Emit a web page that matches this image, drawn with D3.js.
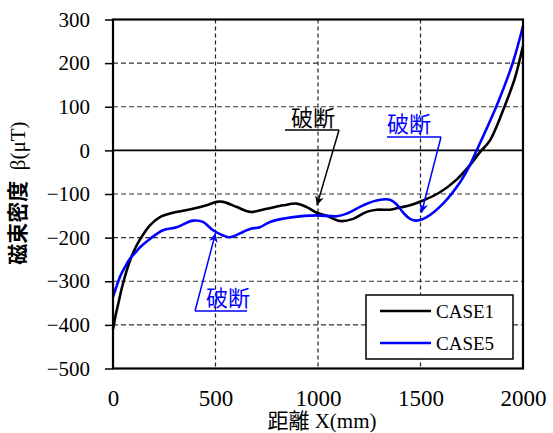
<!DOCTYPE html>
<html><head><meta charset="utf-8">
<script src="https://cdn.jsdelivr.net/npm/d3@7"></script>
<style>body{margin:0;background:#fff}</style>
</head><body>
<script>
const xTicks = [0, 500, 1000, 1500, 2000];
const yTicks = [300, 200, 100, 0, -100, -200, -300, -400, -500];
const seriesNames = ["CASE1", "CASE5"];
const case1X = [0, 12, 24, 45, 67, 90, 115, 140, 180, 229, 293, 390, 456, 505, 537, 605, 668, 750, 830, 896, 945, 994, 1042, 1107, 1171, 1237, 1286, 1351, 1400, 1449, 1512, 1595, 1676, 1741, 1790, 1839, 1912, 1960, 2000];
const case1Y = [-410, -380, -355, -312, -275, -244, -218, -198, -172, -153, -143, -134, -126, -118, -118, -130, -141, -134, -126, -122, -130, -143, -150, -162, -157, -141, -136, -136, -131, -126, -115, -96, -67, -34, -4, 23, 103, 165, 240];
const case5X = [0, 15, 34, 60, 83, 110, 132, 180, 244, 311, 390, 439, 488, 537, 571, 634, 668, 717, 766, 878, 994, 1091, 1140, 1220, 1286, 1351, 1384, 1420, 1449, 1481, 1530, 1610, 1693, 1741, 1774, 1872, 1951, 2000];
const case5Y = [-336, -315, -290, -266, -248, -234, -222, -203, -183, -176, -161, -164, -183, -195, -199, -187, -180, -176, -164, -153, -149, -151, -145, -126, -115, -113, -124, -145, -157, -161, -153, -122, -73, -34, 0, 103, 202, 285];
const annLabel = "破断";

const W = 553, H = 433;
const m = {left: 113, right: 523, top: 19.5, bottom: 368.5};
const svg = d3.select("body").append("svg").attr("width", W).attr("height", H);
const x = d3.scaleLinear().domain([0, 2000]).range([m.left, m.right]);
const y = d3.scaleLinear().domain([-500, 300]).range([m.bottom, m.top]);
const serif = "'Liberation Serif','Times New Roman',serif";
const cjk = "'Noto Sans CJK JP',sans-serif";

// grid
const g = svg.append("g");
g.selectAll("line.hg").data(yTicks.filter(d => d !== 0 && d !== 300 && d !== -500)).enter().append("line")
  .attr("x1", m.left).attr("x2", m.right).attr("y1", d => y(d)).attr("y2", d => y(d))
  .attr("stroke", "#333").attr("stroke-width", 1.2).attr("stroke-dasharray", "5,3");
g.selectAll("line.vg").data(xTicks.filter(d => d !== 0 && d !== 2000)).enter().append("line")
  .attr("x1", d => x(d)).attr("x2", d => x(d)).attr("y1", m.top).attr("y2", m.bottom)
  .attr("stroke", "#222").attr("stroke-width", 1.2).attr("stroke-dasharray", "4,3");
g.append("line").attr("x1", m.left).attr("x2", m.right).attr("y1", y(0)).attr("y2", y(0))
  .attr("stroke", "#000").attr("stroke-width", 1.6);

// y axis
const yAxis = d3.axisLeft(y).tickValues(yTicks).tickSize(8).tickPadding(15).tickFormat(d3.format("d"));
const ya = svg.append("g").attr("transform", `translate(${m.left},0)`).call(yAxis);
ya.select(".domain").remove();
ya.selectAll("line").attr("stroke", "#000").attr("stroke-width", 1.5);
ya.selectAll("text").attr("font-family", serif).attr("font-size", 21).attr("fill", "#000");

const xAxis = d3.axisBottom(x).tickValues(xTicks).tickSize(0).tickPadding(21).tickFormat(d3.format("d"));
const xa = svg.append("g").attr("transform", `translate(0,${m.bottom})`).call(xAxis);
xa.select(".domain").remove();
xa.selectAll("text").attr("font-family", serif).attr("font-size", 23).attr("fill", "#000");

// lines
const line = d3.line().x(d => x(d[0])).y(d => y(d[1])).curve(d3.curveCatmullRom.alpha(0.5));
const d1 = case1X.map((v, i) => [v, case1Y[i]]);
const d5 = case5X.map((v, i) => [v, case5Y[i]]);
svg.append("path").datum(d1).attr("d", line).attr("fill", "none").attr("stroke", "#000").attr("stroke-width", 2.6);
svg.append("path").datum(d5).attr("d", line).attr("fill", "none").attr("stroke", "#0000ff").attr("stroke-width", 2.6);

// frame
svg.append("rect").attr("x", m.left).attr("y", m.top).attr("width", m.right - m.left).attr("height", m.bottom - m.top)
  .attr("fill", "none").attr("stroke", "#000").attr("stroke-width", 2.2);

// annotations
const defs = svg.append("defs");
["#000", "#0000ff"].forEach((c, i) => {
  defs.append("marker").attr("id", "ar" + i).attr("viewBox", "0 0 10 10").attr("refX", 10).attr("refY", 5)
    .attr("markerWidth", 9).attr("markerHeight", 9).attr("markerUnits", "userSpaceOnUse").attr("orient", "auto")
    .append("path").attr("d", "M0,0 L10,5 L0,10 L3,5 Z").attr("fill", c);
});
function ann(tx, ty, ux1, ux2, uy, sx, sy, ex, ey, c, mi) {
  svg.append("text").attr("x", tx).attr("y", ty).text(annLabel).attr("fill", c)
    .attr("font-family", cjk).attr("font-size", 22);
  svg.append("line").attr("x1", ux1).attr("x2", ux2).attr("y1", uy).attr("y2", uy).attr("stroke", c).attr("stroke-width", 1.5);
  svg.append("line").attr("x1", sx).attr("y1", sy).attr("x2", ex).attr("y2", ey).attr("stroke", c).attr("stroke-width", 1.5)
    .attr("marker-end", `url(#ar${mi})`);
}
ann(291, 126, 285, 339, 130, 339, 130, x(995), y(-126), "#000", 0);
ann(387, 132, 387, 441, 137, 441, 137, x(1505), y(-143), "#0000ff", 1);
ann(206, 306, 195, 247, 311, 195, 311, x(500), y(-190), "#0000ff", 1);

// legend
svg.append("rect").attr("x", 366).attr("y", 295).attr("width", 147).attr("height", 64)
  .attr("fill", "#fff").attr("stroke", "#000").attr("stroke-width", 1.5);
seriesNames.forEach((n, i) => {
  const yy = 311 + i * 32;
  svg.append("line").attr("x1", 380).attr("x2", 431).attr("y1", yy).attr("y2", yy)
    .attr("stroke", i ? "#0000ff" : "#000").attr("stroke-width", 2.6);
  svg.append("text").attr("x", 436).attr("y", yy + 6.5).text(n).attr("font-family", serif).attr("font-size", 19).attr("fill", "#000");
});

// axis titles
const xt = svg.append("text").attr("x", 322).attr("y", 428).attr("text-anchor", "middle").attr("font-size", 21).attr("fill", "#000");
xt.append("tspan").attr("font-family", cjk).text("距離");
xt.append("tspan").attr("font-family", serif).text(" X(mm)");
const yt = svg.append("text").attr("transform", "translate(25,193) rotate(-90)").attr("text-anchor", "middle").attr("font-size", 21).attr("fill", "#000");
yt.append("tspan").attr("font-family", cjk).attr("font-weight", "bold").text("磁束密度");
yt.append("tspan").attr("font-family", serif).text("\u00a0\u00a0β(μT)");
</script>
</body></html>
